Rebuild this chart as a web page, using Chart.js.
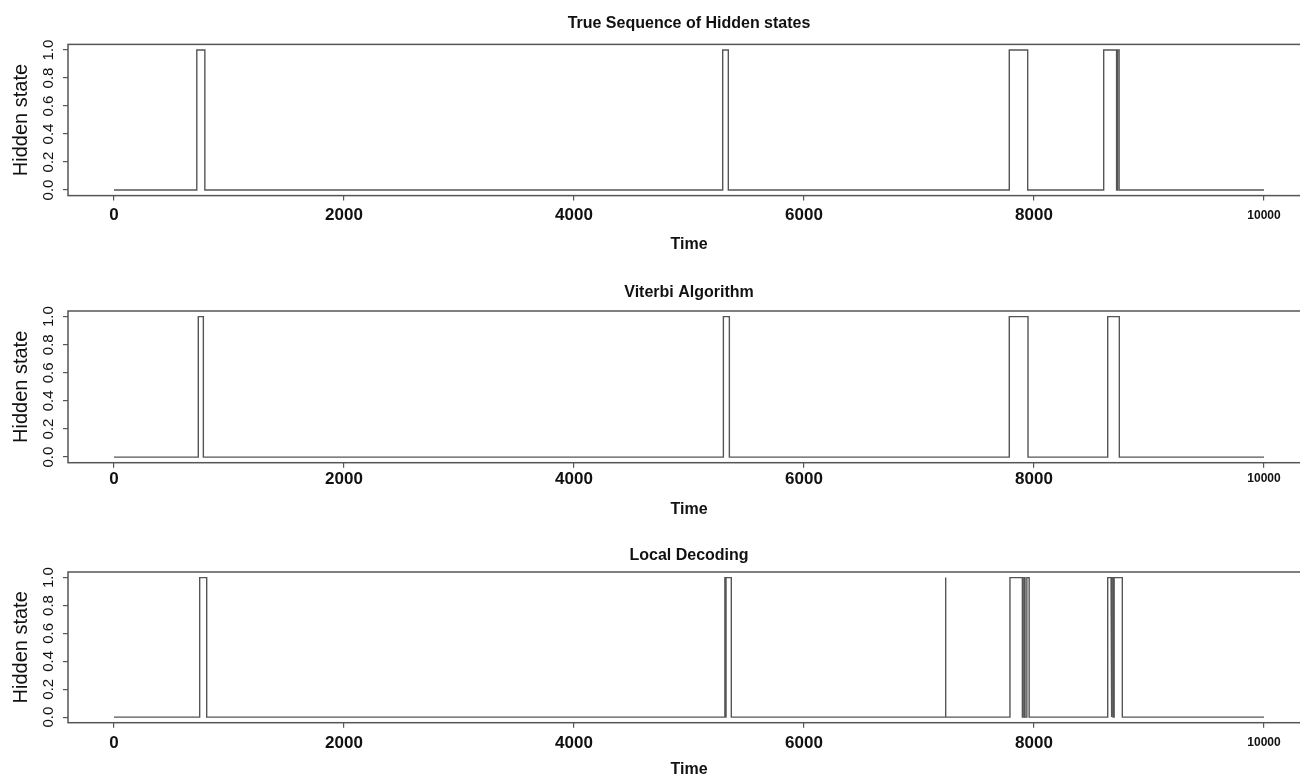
<!DOCTYPE html>
<html>
<head>
<meta charset="utf-8">
<script src="https://cdn.jsdelivr.net/npm/chart.js@4.4.0/dist/chart.umd.min.js"></script>
<style>
  html, body { margin: 0; padding: 0; background: #fff; overflow: hidden; width: 1300px; height: 779px; }
  canvas { position: absolute; left: 0; }
</style>
</head>
<body>
<canvas id="c1"></canvas>
<canvas id="c2"></canvas>
<canvas id="c3"></canvas>
<script>
// axis values
const xTicks = [0, 2000, 4000, 6000, 8000, 10000];
const yTicks = [0, 0.2, 0.4, 0.6, 0.8, 1.0];
const timeStart = 0;
const timeEnd = 10000;

// periods where hidden state = 1 (start / end time)
const trueStarts = [720, 5293, 7785, 8606, 8726];
const trueEnds   = [790, 5342, 7945, 8718, 8740];

const viterbiStarts = [733, 5299, 7785, 8641];
const viterbiEnds   = [777, 5351, 7948, 8742];

const localStarts = [745, 5312, 5322, 7228, 7791, 7912, 7938, 8641, 8678, 8697];
const localEnds   = [806, 5317, 5368, 7234, 7899, 7922, 7958, 8670, 8688, 8768];

const FONT = "'Liberation Sans', Arial, sans-serif";
const INK = "#555";

// turn the start/end lists into a 0/1 step line
function stepPoints(starts, ends) {
    const pts = [{ x: timeStart, y: 0 }];
    starts.forEach((s, i) => {
        pts.push({ x: s, y: 0 }, { x: s, y: 1 }, { x: ends[i], y: 1 }, { x: ends[i], y: 0 });
    });
    pts.push({ x: timeEnd, y: 0 });
    return pts;
}

// R style box round the plot region
const boxPlugin = {
    id: "box",
    afterDraw(chart) {
        const { ctx, chartArea: a } = chart;
        ctx.save();
        ctx.strokeStyle = INK;
        ctx.lineWidth = 1.5;
        ctx.strokeRect(a.left, a.top, a.right - a.left, a.bottom - a.top);
        ctx.restore();
    },
};

const panels = [
    { id: "c1", title: "True Sequence of Hidden states", starts: trueStarts, ends: trueEnds,
      top: 0, height: 262, titleY: 24, boxTop: 44.4, boxBottom: 195.6, timeY: 245, tickPad: 5 },
    { id: "c2", title: "Viterbi Algorithm", starts: viterbiStarts, ends: viterbiEnds,
      top: 267, height: 261, titleY: 26, boxTop: 44, boxBottom: 195.7, timeY: 243, tickPad: 1 },
    { id: "c3", title: "Local Decoding", starts: localStarts, ends: localEnds,
      top: 528, height: 251, titleY: 28, boxTop: 44, boxBottom: 194.7, timeY: 242, tickPad: 5 },
];

panels.forEach((p) => {
    const canvas = document.getElementById(p.id);
    canvas.width = 1320;
    canvas.height = p.height;
    canvas.style.top = p.top + "px";

    const titleSize = 16, titleLH = titleSize * 1.2;
    const timeSize = 16, timeLH = timeSize * 1.2;

    new Chart(canvas.getContext("2d"), {
        type: "line",
        data: {
            datasets: [{
                data: stepPoints(p.starts, p.ends),
                borderColor: INK,
                borderWidth: 1.4,
                pointRadius: 0,
                tension: 0,
                fill: false,
            }],
        },
        options: {
            responsive: false,
            animation: false,
            events: [],
            layout: { padding: { left: 0, right: 10, top: 0, bottom: 0 } },
            plugins: {
                legend: { display: false },
                tooltip: { enabled: false },
                title: {
                    display: true,
                    text: p.title,
                    fullSize: false,
                    color: "#111",
                    font: { family: FONT, size: titleSize, weight: "bold" },
                    padding: { top: p.titleY - titleLH / 2, bottom: p.boxTop - p.titleY - titleLH / 2 },
                },
            },
            scales: {
                x: {
                    type: "linear",
                    min: -400,
                    max: 10400,
                    afterFit: (s) => { s.height = p.height - p.boxBottom; },
                    afterBuildTicks: (s) => { s.ticks = xTicks.map((v) => ({ value: v })); },
                    grid: { display: true, drawOnChartArea: false, drawTicks: true, tickLength: 5, color: INK, lineWidth: 1.2 },
                    border: { display: false },
                    ticks: {
                        color: "#111",
                        padding: p.tickPad,
                        maxRotation: 0,
                        autoSkip: false,
                        font: (ctx) => ctx.tick && ctx.tick.value === 10000
                            ? { family: FONT, size: 12, weight: "bold", lineHeight: 1.7 }
                            : { family: FONT, size: 17, weight: "bold", lineHeight: 1.2 },
                        callback: (v) => String(v),
                    },
                    title: {
                        display: true,
                        text: "Time",
                        color: "#111",
                        font: { family: FONT, size: timeSize, weight: "bold" },
                        padding: { top: 0, bottom: p.height - p.timeY - timeLH / 2 },
                    },
                },
                y: {
                    type: "linear",
                    min: -0.04,
                    max: 1.04,
                    afterFit: (s) => { s.width = 68; },
                    afterBuildTicks: (s) => { s.ticks = yTicks.map((v) => ({ value: v })); },
                    grid: { display: true, drawOnChartArea: false, drawTicks: true, tickLength: 5, color: INK, lineWidth: 1.2 },
                    border: { display: false },
                    ticks: {
                        color: "#111",
                        padding: 4,
                        minRotation: 90,
                        maxRotation: 90,
                        crossAlign: "center",
                        autoSkip: false,
                        font: { family: FONT, size: 15 },
                        callback: (v) => Number(v).toFixed(1),
                    },
                    title: {
                        display: true,
                        text: "Hidden state",
                        color: "#111",
                        font: { family: FONT, size: 20 },
                        padding: { top: 9, bottom: 0 },
                    },
                },
            },
        },
        plugins: [boxPlugin],
    });
});
</script>
</body>
</html>
